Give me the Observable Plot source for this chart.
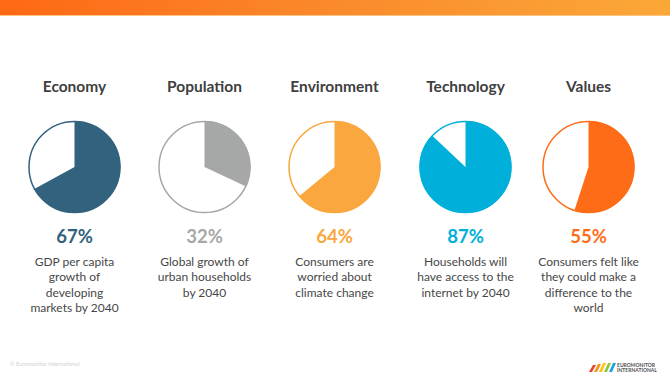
<!DOCTYPE html>
<html><head><meta charset="utf-8">
<script src="https://cdn.jsdelivr.net/npm/d3@7"></script>
<script src="https://cdn.jsdelivr.net/npm/@observablehq/plot@0.6"></script>
<style>
body{margin:0;background:#fff;font-family:Lato,"Open Sans",sans-serif;}
#page{position:relative;width:670px;height:377px;overflow:hidden;background:#fff;}
#bar{height:15px;background:linear-gradient(to right,#FF6815,#FA8A2C 50%,#FBA838);border-bottom:1px solid #FFC580;}
#chart svg{display:block;}
#copy{position:absolute;left:10px;top:360px;font-size:5.6px;color:#d0d0d0;}
#logo{position:absolute;left:589px;top:357px;}
</style></head><body>
<div id="page"><div id="bar"></div><div id="chart"></div>
<div id="copy">© Euromonitor International</div>
<div id="logo"><svg width="70" height="12">
<polygon points="0,11 4,4 7,4 3,11" fill="#E8412C"/>
<polygon points="5,11 9,3 12,3 8,11" fill="#F7931E"/>
<polygon points="10,11 14,2 17,2 13,11" fill="#F9C31B"/>
<polygon points="15,11 19,2 22,2 18,11" fill="#8DC63F"/>
<polygon points="20,11 24,2 27,2 23,11" fill="#1CA3DC"/>
<text x="28" y="5.5" font-size="5" font-weight="bold" fill="#505050" font-family="Lato">EUROMONITOR</text>
<text x="28" y="11" font-size="5" font-weight="bold" fill="#505050" font-family="Lato">INTERNATIONAL</text>
</svg></div>
</div>
<script>
const categories = ["Economy", "Population", "Environment", "Technology", "Values"];
const shares = [67, 32, 64, 87, 55];
const descriptions = [
  "GDP per capita\ngrowth of\ndeveloping\nmarkets by 2040",
  "Global growth of\nurban households\nby 2040",
  "Consumers are\nworried about\nclimate change",
  "Households will\nhave access to the\ninternet by 2040",
  "Consumers felt like\nthey could make a\ndifference to the\nworld"
];
const colors = ["#32627E", "#A6A8A8", "#F9A73E", "#00B0DA", "#FF6C17"];

const data = categories.map((c, i) => ({i, category: c, value: shares[i], desc: descriptions[i], color: colors[i]}));

const R = 45.5;
const PIE_Y = 150.5;

const pie = Plot.dot(data, {
  x: "i", r: R, frameAnchor: "top", dy: PIE_Y,
  fill: "white", stroke: "color", strokeWidth: 1.5,
  render(index, scales, values, dims, context, next) {
    const g = next(index, scales, values, dims, context);
    const arc = d3.arc().innerRadius(0).outerRadius(R + 0.4);
    const circles = g.querySelectorAll("circle");
    circles.forEach((c, j) => {
      const d = data[index[j]];
      const p = document.createElementNS("http://www.w3.org/2000/svg", "path");
      p.setAttribute("transform", `translate(${c.getAttribute("cx")},${c.getAttribute("cy")})`);
      p.setAttribute("d", arc({startAngle: 0, endAngle: 2 * Math.PI * d.value / 100}));
      p.setAttribute("fill", d.color);
      c.parentNode.insertBefore(p, c.nextSibling);
    });
    return g;
  }
});

const chart = Plot.plot({
  width: 670, height: 361,
  margin: 0,
  x: {type: "linear", domain: [0, 1, 2, 3, 4], range: [74, 204, 334, 465, 588], axis: null},
  color: {type: "identity"},
  style: {background: "white", fontFamily: "Lato, 'Open Sans', sans-serif"},
  marks: [
    Plot.text(data, {x: "i", text: "category", frameAnchor: "top", dy: 64, fontSize: 15.5, fontWeight: "bold", fill: "#404040"}),
    pie,
    Plot.text(data, {x: "i", text: d => d.value + "%", frameAnchor: "top", dy: 213, fontSize: 18.5, fontWeight: "bold", fill: "color"}),
    Plot.text(data, {x: "i", text: "desc", frameAnchor: "top", dy: 238.5, lineAnchor: "top", lineHeight: 1.28, fontSize: 12, fill: "#474747"})
  ]
});
document.getElementById("chart").appendChild(chart);
</script>
</body></html>
